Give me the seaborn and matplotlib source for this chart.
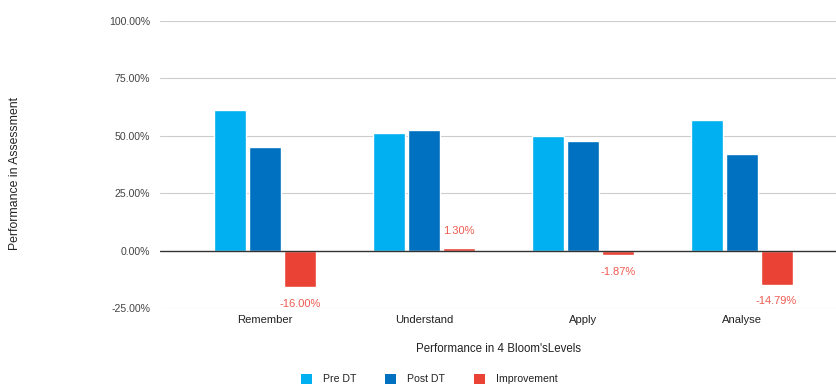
import matplotlib
matplotlib.use("Agg")
import matplotlib.pyplot as plt
from matplotlib.patches import Patch
import seaborn as sns
import pandas as pd

levels = ["Remember", "Understand", "Apply", "Analyse"]
pre_dt = [61.07, 51.20, 49.70, 56.80]
post_dt = [45.07, 52.50, 47.83, 42.01]
improvement = [-16.00, 1.30, -1.87, -14.79]
series = ["Pre DT", "Post DT", "Improvement"]
colors = ["#00B0F0", "#0070C0", "#EA4335"]
yticks = [-25, 0, 25, 50, 75, 100]

df = pd.DataFrame({
    "level": levels * 3,
    "series": [s for s in series for _ in levels],
    "value": pre_dt + post_dt + improvement,
})

sns.set_theme(style="white")
plt.rcParams["font.family"] = ["Liberation Sans", "DejaVu Sans"]

fig = plt.figure(figsize=(8.37, 3.87), dpi=100)
ax = fig.add_axes([160 / 837, 1 - 308 / 387, 1 - 160 / 837, (308 - 21) / 387])

sns.barplot(data=df, x="level", y="value", hue="series", order=levels,
            hue_order=series, palette=colors, width=0.66, gap=0.08,
            saturation=1, legend=False, ax=ax, zorder=3)

ax.set_ylim(-25, 100)
ax.set_xlim(-0.66, 3.6)
ax.set_yticks(yticks)
ax.set_yticklabels([f"{v:.2f}%" for v in yticks], fontsize=7.6, color="#444444")
ax.tick_params(axis="x", labelsize=8.1, labelcolor="#222222", length=0, pad=5)
ax.tick_params(axis="y", length=0, pad=7)
for t in yticks:
    if t == 0:
        ax.axhline(0, color="#333333", lw=1.0, zorder=4)
    else:
        ax.axhline(t, color="#cccccc", lw=0.8, zorder=1)
for s in ax.spines.values():
    s.set_visible(False)

# value labels on the improvement bars
imp_bars = ax.containers[2]
for bar, v in zip(imp_bars, improvement):
    cx = bar.get_x() + bar.get_width() / 2
    off = 12 if v >= 0 else -12
    ax.annotate(f"{v:.2f}%", (cx, v), xytext=(0, off), textcoords="offset points",
                ha="center", va="center", fontsize=8, color="#EE5A50")

ax.set_xlabel("Performance in 4 Bloom'sLevels", fontsize=8.3, color="#222222", labelpad=13)
ax.set_ylabel("")
fig.text(15 / 837, 1 - 173 / 387, "Performance in Assessment", rotation=90,
         ha="center", va="center", fontsize=8.8, color="#222222")

handles = [Patch(facecolor=c, edgecolor="none") for c in colors]
fig.legend(handles, series, loc="center", bbox_to_anchor=(429 / 837, 1 - 379 / 387),
           ncol=3, frameon=False, fontsize=7.6, handlelength=1.1, handleheight=1.1,
           columnspacing=2.7, handletextpad=1.0, labelcolor="#222222")

fig.savefig("out.png", dpi=100)
